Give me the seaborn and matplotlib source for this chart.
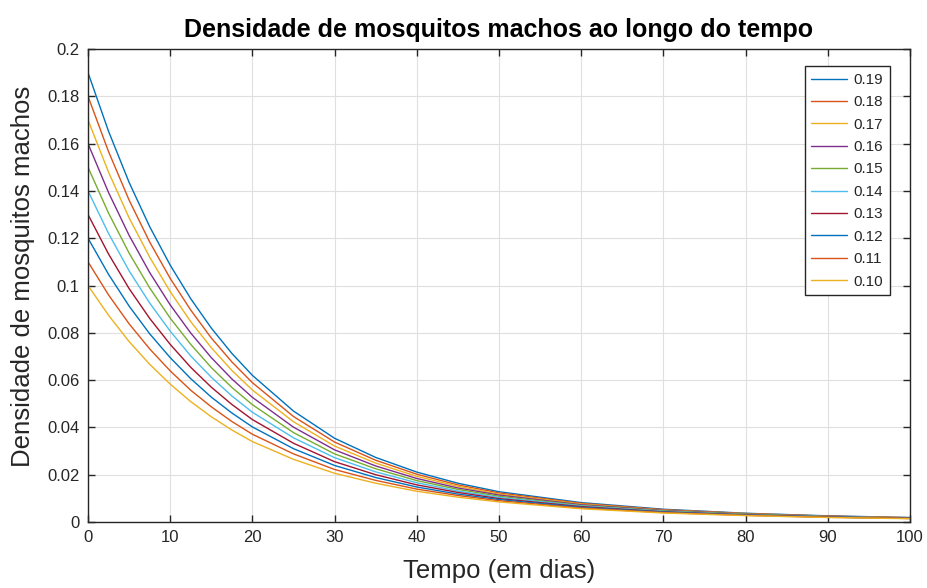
import numpy as np
import pandas as pd
import matplotlib
matplotlib.use("Agg")
import matplotlib.pyplot as plt
import seaborn as sns

days = [0, 2.5, 5, 7.5, 10, 12.5, 15, 17.5, 20, 25, 30, 35, 40, 45, 50, 60, 70, 80, 90, 100]

s019 = [0.1900, 0.1652, 0.1436, 0.1249, 0.1086, 0.0944, 0.0820, 0.0713, 0.0620, 0.0469, 0.0354, 0.0273, 0.0211, 0.0164, 0.0128, 0.0082, 0.0054, 0.0037, 0.0026, 0.0019]
s018 = [0.1800, 0.1566, 0.1361, 0.1184, 0.1030, 0.0896, 0.0778, 0.0677, 0.0589, 0.0446, 0.0338, 0.0261, 0.0202, 0.0157, 0.0123, 0.0079, 0.0052, 0.0036, 0.0025, 0.0018]
s017 = [0.1700, 0.1479, 0.1286, 0.1120, 0.0974, 0.0847, 0.0737, 0.0641, 0.0558, 0.0424, 0.0321, 0.0249, 0.0193, 0.0151, 0.0118, 0.0076, 0.0050, 0.0035, 0.0024, 0.0018]
s016 = [0.1600, 0.1393, 0.1212, 0.1055, 0.0918, 0.0799, 0.0695, 0.0605, 0.0527, 0.0401, 0.0305, 0.0237, 0.0184, 0.0144, 0.0114, 0.0073, 0.0049, 0.0034, 0.0024, 0.0017]
s015 = [0.1500, 0.1306, 0.1137, 0.0990, 0.0862, 0.0751, 0.0653, 0.0569, 0.0496, 0.0378, 0.0288, 0.0225, 0.0175, 0.0138, 0.0109, 0.0070, 0.0047, 0.0033, 0.0023, 0.0017]
s014 = [0.1400, 0.1220, 0.1062, 0.0926, 0.0807, 0.0702, 0.0612, 0.0533, 0.0464, 0.0356, 0.0272, 0.0212, 0.0166, 0.0131, 0.0104, 0.0068, 0.0045, 0.0031, 0.0022, 0.0016]
s013 = [0.1300, 0.1133, 0.0987, 0.0861, 0.0751, 0.0654, 0.0570, 0.0497, 0.0433, 0.0333, 0.0255, 0.0200, 0.0157, 0.0125, 0.0099, 0.0065, 0.0043, 0.0030, 0.0021, 0.0016]
s012 = [0.1200, 0.1047, 0.0913, 0.0796, 0.0695, 0.0606, 0.0528, 0.0461, 0.0402, 0.0310, 0.0239, 0.0188, 0.0148, 0.0118, 0.0095, 0.0062, 0.0042, 0.0029, 0.0021, 0.0015]
s011 = [0.1100, 0.0960, 0.0838, 0.0732, 0.0639, 0.0557, 0.0487, 0.0425, 0.0371, 0.0288, 0.0222, 0.0176, 0.0139, 0.0112, 0.0090, 0.0059, 0.0040, 0.0028, 0.0020, 0.0015]
s010 = [0.1000, 0.0874, 0.0763, 0.0667, 0.0583, 0.0509, 0.0445, 0.0389, 0.0340, 0.0265, 0.0206, 0.0164, 0.0130, 0.0105, 0.0085, 0.0056, 0.0038, 0.0027, 0.0019, 0.0014]

labels = ["0.19", "0.18", "0.17", "0.16", "0.15", "0.14", "0.13", "0.12", "0.11", "0.10"]
series = [s019, s018, s017, s016, s015, s014, s013, s012, s011, s010]

x_ticks = [0, 10, 20, 30, 40, 50, 60, 70, 80, 90, 100]
y_ticks = [0, 0.02, 0.04, 0.06, 0.08, 0.1, 0.12, 0.14, 0.16, 0.18, 0.2]
y_tick_labels = ["0", "0.02", "0.04", "0.06", "0.08", "0.1", "0.12", "0.14", "0.16", "0.18", "0.2"]

colors = ["#0072BD", "#D95319", "#EDB120", "#7E2F8E", "#77AC30",
          "#4DBEEE", "#A2142F", "#0072BD", "#D95319", "#EDB120"]

rows = []
for lab, vals in zip(labels, series):
    for d, v in zip(days, vals):
        rows.append({"dia": d, "valor": v, "curva": lab})
df = pd.DataFrame(rows)

sns.set_theme(style="white")
plt.rcParams["font.family"] = ["Liberation Sans", "DejaVu Sans"]

fig = plt.figure(figsize=(9.28, 5.88), dpi=100)
ax = fig.add_axes([88 / 928, 66 / 588, 822 / 928, 473 / 588])

sns.lineplot(data=df, x="dia", y="valor", hue="curva", hue_order=labels,
             palette=colors, linewidth=1.0, ax=ax, sort=True, estimator=None)

ax.set_xlim(0, 100)
ax.set_ylim(0, 0.2)
ax.set_xticks(x_ticks)
ax.set_xticklabels([str(t) for t in x_ticks])
ax.set_yticks(y_ticks)
ax.set_yticklabels(y_tick_labels)

ax.grid(True, color="#dfdfdf", linewidth=0.8)
ax.set_axisbelow(True)
for sp in ax.spines.values():
    sp.set_color("#262626")
    sp.set_linewidth(1.0)
    sp.set_visible(True)
ax.tick_params(axis="both", direction="in", length=5, width=1.0, color="#262626",
               labelsize=12, labelcolor="#262626", top=True, right=True,
               bottom=True, left=True, pad=6)

ax.set_xlabel("Tempo (em dias)", fontsize=18.5, color="#262626", labelpad=10)
ax.set_ylabel("Densidade de mosquitos machos", fontsize=18.5, color="#262626")
ax.yaxis.set_label_coords(-0.0645, 0.52)
ax.set_title("Densidade de mosquitos machos ao longo do tempo", fontsize=18,
             fontweight="bold", color="black", pad=9)

handles, labs = ax.get_legend_handles_labels()
leg = ax.legend(handles, labs, loc="upper right",
                bbox_to_anchor=((890 - 88) / 822, (522 - 66) / 473),
                borderaxespad=0, fontsize=11, frameon=True, fancybox=False,
                edgecolor="#262626", framealpha=1, labelspacing=0.55,
                handlelength=2.3, handletextpad=0.45, borderpad=0.45)
leg.get_frame().set_linewidth(1.0)
for t in leg.get_texts():
    t.set_color("#262626")

fig.savefig("out.png", dpi=100)
